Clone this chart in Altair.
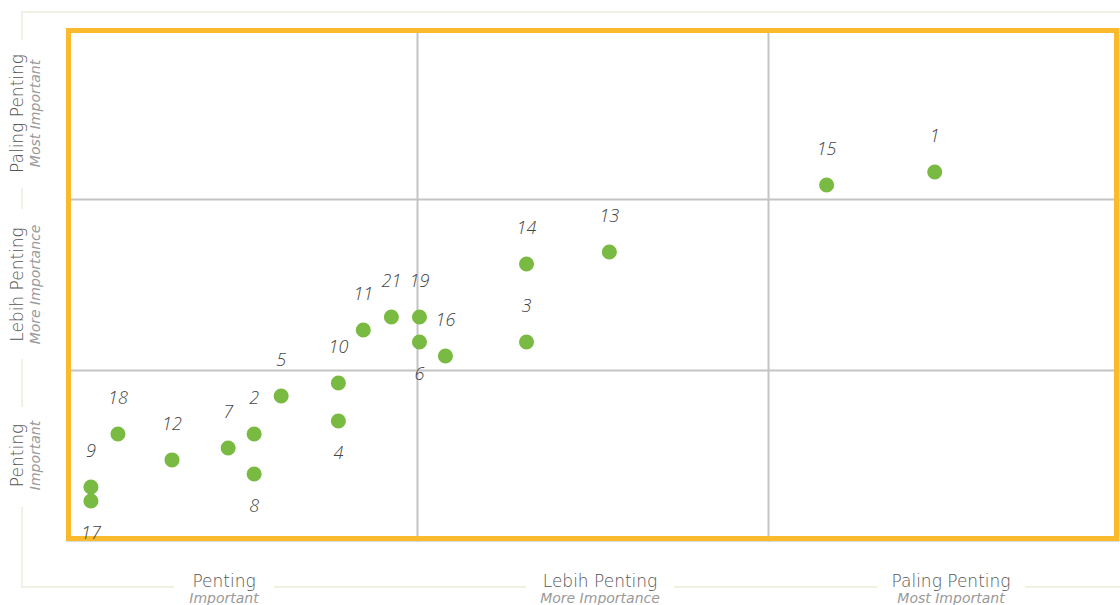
import altair as alt
import pandas as pd

# Item scores on the two importance dimensions (0-3, one band per level)
item_ids = ["1", "15", "13", "14", "3", "16", "19", "6", "21", "11",
            "10", "4", "5", "2", "8", "7", "12", "18", "9", "17"]
x_score = [2.475, 2.167, 1.548, 1.312, 1.312, 1.081, 1.007, 1.007, 0.927, 0.847,
           0.776, 0.776, 0.613, 0.536, 0.536, 0.462, 0.302, 0.148, 0.071, 0.071]
y_score = [2.158, 2.082, 1.690, 1.620, 1.164, 1.082, 1.310, 1.164, 1.310, 1.234,
           0.924, 0.702, 0.848, 0.626, 0.392, 0.544, 0.474, 0.626, 0.316, 0.234]
label_side = ["above", "above", "above", "above", "above", "above", "above", "below", "above", "above",
              "above", "below", "above", "above", "below", "above", "above", "above", "above", "below"]

level_main = ["Penting", "Lebih Penting", "Paling Penting"]
level_sub = ["Important", "More Importance", "Most Important"]

W, H = 1053, 513
FONT = "Open Sans"
CAP_FONT = "DejaVu Sans"
YELLOW = "#FBBA2E"
GREEN = "#79BA42"
FRAME = "#EEF2E4"

pts = pd.DataFrame({"id": item_ids, "x": x_score, "y": y_score, "side": label_side})

xs = alt.Scale(domain=[0, 3], nice=False, zero=False)
ys = alt.Scale(domain=[0, 3], nice=False, zero=False)
grid_axis = dict(values=[1, 2], grid=True, gridColor="#C4C4C4", gridWidth=2,
                 domain=False, labels=False, ticks=False, title=None)

# grid lines through the band boundaries
base = alt.Chart(pts).mark_point(opacity=0).encode(
    x=alt.X("x:Q", scale=xs, axis=alt.Axis(**grid_axis)),
    y=alt.Y("y:Q", scale=ys, axis=alt.Axis(**grid_axis)),
)

one = pd.DataFrame({"k": [0]})
border = alt.Chart(one).mark_rect(fillOpacity=0, stroke=YELLOW, strokeWidth=5).encode(
    x=alt.value(2.5), x2=alt.value(W - 2.5), y=alt.value(2.5), y2=alt.value(H - 2.5)
)

dots = alt.Chart(pts).mark_circle(size=227, color=GREEN, opacity=1).encode(
    x=alt.X("x:Q", scale=xs), y=alt.Y("y:Q", scale=ys)
)

def id_labels(side, dy):
    return alt.Chart(pts).transform_filter(alt.datum.side == side).mark_text(
        font=FONT, fontSize=18, fontStyle="italic", fontWeight=300, color="#444444",
        baseline="middle", align="center", dy=dy
    ).encode(x=alt.X("x:Q", scale=xs), y=alt.Y("y:Q", scale=ys), text="id:N")

labels_above = id_labels("above", -35)
labels_below = id_labels("below", 33)

# light outer frame, broken where the level captions sit
left_gaps = [(86, 74), (256, 75), (429, 50)]   # (centre, half width) in px
bottom_gaps = [(158, 50), (534, 74), (885, 74)]
segs = []
start = -16
for c, hw in left_gaps:
    segs.append({"x": -44, "x2": -44, "y": start, "y2": c - hw})
    start = c + hw
segs.append({"x": -44, "x2": -44, "y": start, "y2": 560})
start = -44
for c, hw in bottom_gaps:
    segs.append({"x": start, "x2": c - hw, "y": 559, "y2": 559})
    start = c + hw
segs.append({"x": start, "x2": W + 2, "y": 559, "y2": 559})
segs.append({"x": -45, "x2": W + 2, "y": -16, "y2": -16})
frame = alt.Chart(pd.DataFrame(segs)).mark_rule(color=FRAME, strokeWidth=2).encode(
    x=alt.X("x:Q", scale=None), x2="x2:Q", y=alt.Y("y:Q", scale=None), y2="y2:Q"
)

# level captions on the left (rotated) and along the bottom
lev = pd.DataFrame({"main": level_main, "sub": level_sub, "mid": [0.5, 1.5, 2.5],
                    "bx": [c for c, _ in bottom_gaps]})
main_style = dict(font=CAP_FONT, fontSize=17, fontWeight=300, color="#555555",
                  align="center", baseline="middle")
sub_style = dict(font=CAP_FONT, fontSize=14, fontWeight=300, fontStyle="italic", color="#9A9A9A",
                 align="center", baseline="middle")
left_main = alt.Chart(lev).mark_text(angle=270, **main_style).encode(
    x=alt.value(-48), y=alt.Y("mid:Q", scale=ys), text="main:N")
left_sub = alt.Chart(lev).mark_text(angle=270, **sub_style).encode(
    x=alt.value(-30), y=alt.Y("mid:Q", scale=ys), text="sub:N")
bottom_main = alt.Chart(lev).mark_text(**main_style).encode(
    x=alt.X("bx:Q", scale=None), y=alt.value(554), text="main:N")
bottom_sub = alt.Chart(lev).mark_text(**sub_style).encode(
    x=alt.X("bx:Q", scale=None), y=alt.value(571), text="sub:N")

chart = alt.layer(
    base, frame, border, dots, labels_above, labels_below,
    left_main, left_sub, bottom_main, bottom_sub
).properties(
    width=W, height=H,
    autosize=alt.AutoSizeParams(type="none"),
    padding={"left": 66, "top": 28, "right": 1, "bottom": 64},
).configure_view(stroke="#BDBDBD", strokeWidth=1).configure(background="white")

chart.save("out.html", embed_options={"renderer": "svg", "actions": False})
